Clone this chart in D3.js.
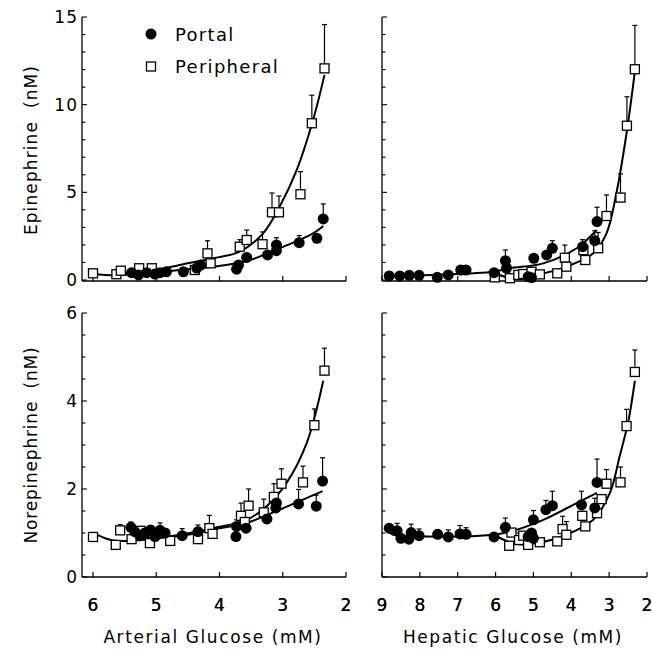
<!DOCTYPE html>
<html><head><meta charset="utf-8">
<script src="https://cdn.jsdelivr.net/npm/d3@7"></script>
<style>body{margin:0;background:#fff}svg{display:block}text{font-family:"DejaVu Sans",sans-serif;fill:#000}</style>
</head><body><svg id="c" width="652" height="650"></svg>
<script>
// ---- data: [glucose, value, errorUp] ----
const epiPortalArt = [[5.39,0.42,0],[5.28,0.29,0],[5.15,0.42,0],[5.02,0.34,0],[4.94,0.42,0],[4.84,0.47,0],[4.57,0.47,0],[4.36,0.68,0],[4.30,0.85,0.1],[3.73,0.62,0],[3.70,0.85,0],[3.57,1.29,0],[3.24,1.43,0],[3.10,1.67,0],[3.10,2.0,0.41],[2.74,2.13,0.4],[2.46,2.38,0],[2.36,3.48,0.86]];
const epiPeriphArt = [[6.0,0.38,0],[5.63,0.33,0],[5.56,0.53,0],[5.27,0.67,0],[5.07,0.67,0],[4.39,0.57,0],[4.19,1.52,0.72],[4.14,0.95,0],[3.68,1.9,0.4],[3.57,2.28,0.57],[3.32,2.04,0.7],[3.17,3.86,1.1],[3.06,3.86,0.93],[2.72,4.89,1.29],[2.54,8.94,1.6],[2.34,12.07,2.5]];
const epiPortalHep = [[8.81,0.23,0],[8.53,0.23,0],[8.28,0.27,0],[8.02,0.27,0],[7.54,0.15,0],[7.25,0.29,0],[6.92,0.57,0],[6.78,0.57,0],[6.04,0.42,0],[5.74,1.1,0.61],[5.71,0.67,0],[5.14,0.19,0],[5.05,0.13,0],[4.99,1.24,0],[4.65,1.43,0],[4.5,1.81,0.43],[3.7,1.9,0.4],[3.38,2.24,0.57],[3.32,3.33,0.82]];
const epiPeriphHep = [[6.02,0.15,0],[5.62,0.1,0],[5.4,0.29,0],[5.27,0.34,0],[5.05,0.47,0],[4.83,0.32,0],[4.37,0.38,0],[4.17,1.27,0.72],[4.13,0.76,0],[3.68,1.7,0],[3.63,1.14,0],[3.29,1.81,0.9],[3.07,3.65,1.2],[2.70,4.7,1.35],[2.53,8.8,1.65],[2.32,12.02,2.5]];
const norPortalArt = [[5.40,1.13,0.12],[5.34,1.03,0],[5.26,0.94,0],[5.18,1.0,0],[5.09,1.07,0],[5.02,0.92,0],[4.94,1.06,0.17],[4.86,1.0,0],[4.59,0.94,0.16],[4.34,1.03,0.15],[3.74,0.92,0],[3.73,1.15,0.15],[3.58,1.11,0],[3.25,1.32,0],[3.11,1.57,0],[3.10,1.68,0],[2.75,1.66,0.33],[2.47,1.61,0.25],[2.37,2.18,0.53]];
const norPeriphArt = [[6.0,0.91,0],[5.64,0.73,0],[5.57,1.06,0.13],[5.39,0.86,0],[5.25,1.05,0],[5.10,0.77,0],[4.78,0.82,0],[4.34,0.86,0],[4.16,1.11,0.29],[4.11,0.98,0],[3.66,1.39,0.29],[3.60,1.25,0],[3.54,1.62,0.38],[3.30,1.47,0.3],[3.14,1.82,0.3],[3.02,2.12,0.34],[2.68,2.15,0.37],[2.50,3.45,0.37],[2.34,4.69,0.51]];
const norPortalHep = [[8.81,1.11,0],[8.6,1.05,0.17],[8.5,0.88,0],[8.29,0.86,0],[8.23,1.01,0.19],[8.02,0.94,0.15],[7.53,0.97,0.1],[7.25,0.91,0.16],[6.94,0.98,0.19],[6.78,0.97,0.15],[6.04,0.91,0],[5.74,1.13,0.21],[5.14,0.92,0],[5.05,1.0,0],[5.0,0.88,0],[5.0,1.3,0.21],[4.67,1.53,0.21],[4.5,1.62,0.33],[3.73,1.64,0.31],[3.38,1.57,0.22],[3.32,2.15,0.53]];
const norPeriphHep = [[5.64,0.71,0],[5.58,1.01,0],[5.38,0.84,0.16],[5.27,0.94,0],[5.14,0.73,0],[4.83,0.79,0],[4.37,0.81,0],[4.23,1.09,0.29],[4.13,0.96,0.3],[3.71,1.39,0.3],[3.63,1.15,0],[3.32,1.45,0],[3.20,1.77,0],[3.07,2.12,0.32],[2.70,2.15,0.35],[2.54,3.43,0.38],[2.32,4.66,0.5]];
// fitted curves: [glucose, value]
const epiPortalArtFit = [[5.5,0.36],[5.0,0.45],[4.6,0.58],[4.1,0.76],[3.57,1.08],[3.05,1.81],[2.52,2.66],[2.36,3.08]];
const epiPeriphArtFit = [[6.0,0.36],[5.6,0.27],[5.0,0.57],[4.63,0.86],[4.1,1.24],[3.68,1.62],[3.31,2.66],[3.05,4.18],[2.78,6.27],[2.52,9.13],[2.34,11.7]];
const epiPortalHepFit = [[8.88,0.23],[7.5,0.3],[6.06,0.47],[5.62,0.67],[4.74,0.95],[3.86,1.81],[3.33,2.85]];
const epiPeriphHepFit = [[6.1,0.47],[5.62,0.13],[4.92,0.29],[4.13,0.76],[3.42,1.52],[3.07,2.66],[2.81,4.94],[2.54,8.37],[2.32,11.9]];
const norPortalArtFit = [[5.4,0.88],[4.6,0.94],[4.1,1.08],[3.57,1.23],[3.05,1.53],[2.37,1.95]];
const norPeriphArtFit = [[6.0,1.01],[5.68,0.83],[5.1,0.86],[4.63,0.96],[4.1,1.11],[3.57,1.3],[3.26,1.6],[2.94,2.14],[2.62,3.05],[2.36,4.46]];
const norPortalHepFit = [[8.88,1.09],[8.7,0.96],[7.82,0.92],[6.06,0.96],[5.62,1.03],[4.74,1.3],[3.86,1.68],[3.32,1.91]];
const norPeriphHepFit = [[5.97,0.92],[5.45,0.75],[4.92,0.77],[4.13,0.96],[3.42,1.3],[2.98,1.91],[2.72,2.75],[2.5,3.51],[2.32,4.46]];
const artTicks = [6,5,4,3,2];
const hepTicks = [9,8,7,6,5,4,3,2];
const epiTicks = [0,5,10,15];
const norTicks = [0,2,4,6];
const legendLabels = ["Portal","Peripheral"];

const svg = d3.select("#c");
const xArt = d3.scaleLinear().domain([6,2]).range([93,346]);
const xHep = d3.scaleLinear().domain([9,2]).range([382,647]);
const yEpi = d3.scaleLinear().domain([0,15]).range([280,17]);
const yNor = d3.scaleLinear().domain([0,6]).range([577,313]);

function panel(x, y, x0, yTop, yBot, xt, yt, yMinor, portal, periph, pFit, qFit, showY) {
  const g = svg.append("g");
  g.append("line").attr("x1",x0).attr("x2",x.range()[1]).attr("y1",yBot).attr("y2",yBot).attr("stroke","#000").attr("stroke-width",1.3);
  g.append("line").attr("x1",x0).attr("x2",x0).attr("y1",yBot).attr("y2",yTop).attr("stroke","#000").attr("stroke-width",1.3);
  xt.forEach(t=>g.append("line").attr("x1",x(t)).attr("x2",x(t)).attr("y1",yBot).attr("y2",yBot-5).attr("stroke","#000").attr("stroke-width",1.2));
  yMinor.forEach(t=>{const major=yt.includes(t);g.append("line").attr("x1",x0).attr("x2",x0+(major?5:3.5)).attr("y1",y(t)).attr("y2",y(t)).attr("stroke","#000").attr("stroke-width",1.1);});
  xt.forEach(t=>g.append("text").attr("x",x(t)).attr("y",611).attr("text-anchor","middle").attr("font-size",17).text(t));
  if (showY) yt.forEach(t=>g.append("text").attr("x",78).attr("y",y(t)+6).attr("text-anchor","end").attr("font-size",17).attr("letter-spacing",1).text(t));
  const line = d3.line().x(d=>x(d[0])).y(d=>y(d[1])).curve(d3.curveCatmullRom.alpha(0.5));
  [pFit,qFit].forEach(f=>g.append("path").attr("d",line(f)).attr("fill","none").attr("stroke","#000").attr("stroke-width",2));
  [...periph,...portal].forEach(d=>{ if(d[2]>0){
    g.append("line").attr("x1",x(d[0])).attr("x2",x(d[0])).attr("y1",y(d[1])).attr("y2",y(d[1]+d[2])).attr("stroke","#000").attr("stroke-width",1.2);
    g.append("line").attr("x1",x(d[0])-2.5).attr("x2",x(d[0])+2.5).attr("y1",y(d[1]+d[2])).attr("y2",y(d[1]+d[2])).attr("stroke","#000").attr("stroke-width",1.2);
  }});
  g.selectAll(null).data(periph).enter().append("rect").attr("x",d=>x(d[0])-4.5).attr("y",d=>y(d[1])-4.5).attr("width",9).attr("height",9).attr("fill","#fff").attr("stroke","#000").attr("stroke-width",1.3);
  g.selectAll(null).data(portal).enter().append("circle").attr("cx",d=>x(d[0])).attr("cy",d=>y(d[1])).attr("r",5.5).attr("fill","#000");
}
const epiMinor = d3.range(0,16,1);
const norMinor = d3.range(0,6.01,0.5);
panel(xArt,yEpi,82,17,281,artTicks,epiTicks,epiMinor,epiPortalArt,epiPeriphArt,epiPortalArtFit,epiPeriphArtFit,true);
panel(xHep,yEpi,382,17,281,hepTicks,epiTicks,epiMinor,epiPortalHep,epiPeriphHep,epiPortalHepFit,epiPeriphHepFit,false);
panel(xArt,yNor,82,313,577,artTicks,norTicks,norMinor,norPortalArt,norPeriphArt,norPortalArtFit,norPeriphArtFit,true);
panel(xHep,yNor,382,313,577,hepTicks,norTicks,norMinor,norPortalHep,norPeriphHep,norPortalHepFit,norPeriphHepFit,false);

svg.append("text").attr("transform","translate(37,150) rotate(-90)").attr("text-anchor","middle").attr("font-size",17).attr("letter-spacing",1.1).attr("xml:space","preserve").text("Epinephrine  (nM)");
svg.append("text").attr("transform","translate(37,445) rotate(-90)").attr("text-anchor","middle").attr("font-size",17).attr("letter-spacing",0.8).attr("xml:space","preserve").text("Norepinephrine  (nM)");
svg.append("text").attr("x",213).attr("y",643).attr("text-anchor","middle").attr("font-size",17).attr("letter-spacing",1.6).text("Arterial Glucose (mM)");
svg.append("text").attr("x",513).attr("y",643).attr("text-anchor","middle").attr("font-size",17).attr("letter-spacing",1.6).text("Hepatic Glucose (mM)");
svg.append("circle").attr("cx",151).attr("cy",34).attr("r",5.5).attr("fill","#000");
svg.append("rect").attr("x",146.5).attr("y",62).attr("width",9).attr("height",9).attr("fill","#fff").attr("stroke","#000").attr("stroke-width",1.3);
svg.append("text").attr("x",175).attr("y",41).attr("font-size",18).attr("letter-spacing",1.3).text(legendLabels[0]);
svg.append("text").attr("x",175).attr("y",73).attr("font-size",18).attr("letter-spacing",1.3).text(legendLabels[1]);
</script></body></html>
